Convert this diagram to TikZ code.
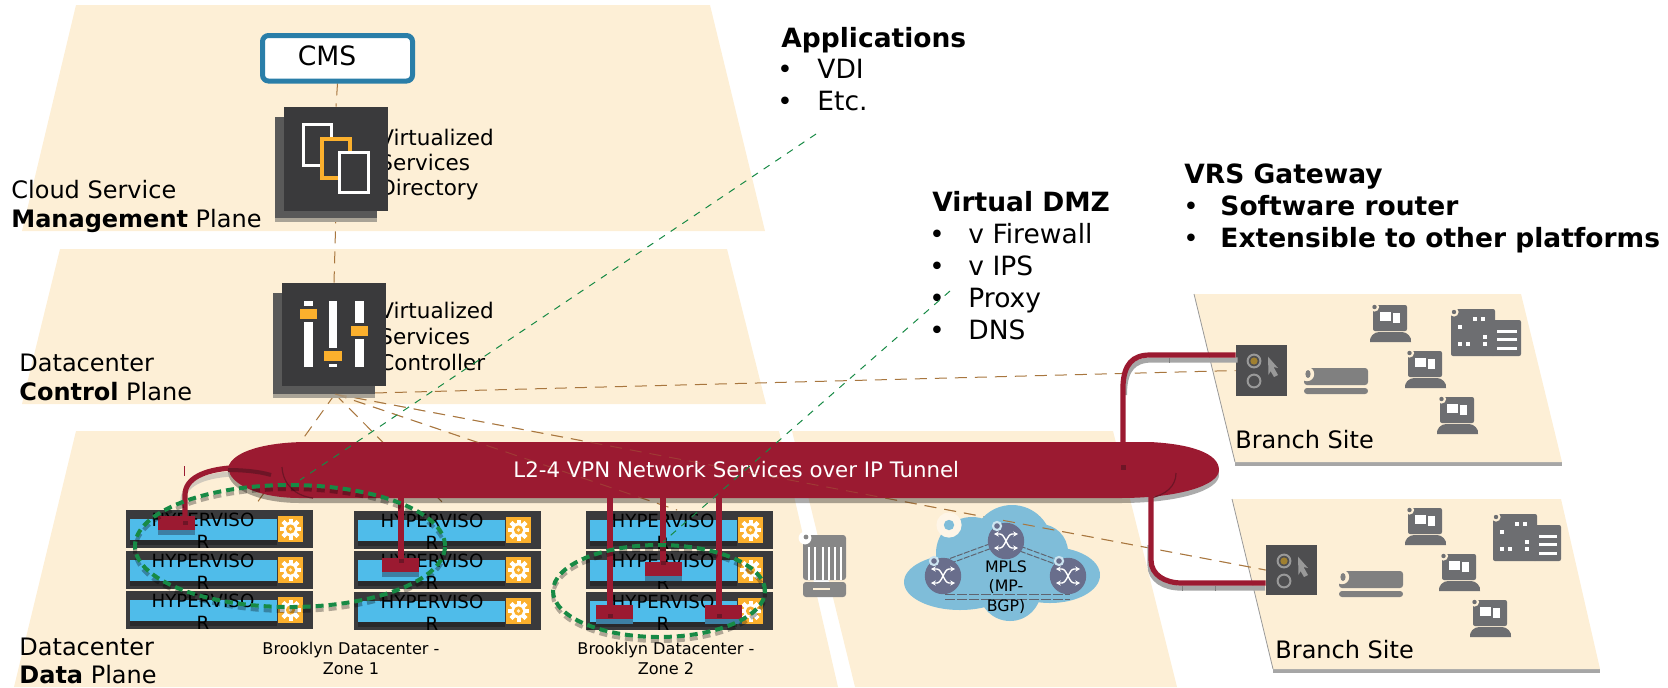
\documentclass[tikz,border=0pt]{standalone}
\usepackage{fontspec}
\setmainfont{DejaVu Sans}
\usetikzlibrary{arrows.meta}
\definecolor{cream}{HTML}{FDEFD6}
\definecolor{tred}{HTML}{9B1A31}
\definecolor{tdark}{HTML}{6E1526}
\definecolor{srvbody}{HTML}{3A3A3C}
\definecolor{srvdark}{HTML}{29292B}
\definecolor{srvblue}{HTML}{4FBCEA}
\definecolor{gearor}{HTML}{FBB02D}
\definecolor{gline}{HTML}{178A45}
\definecolor{bline}{HTML}{A8763E}
\definecolor{shad}{HTML}{A9A396}
\definecolor{devgray}{HTML}{6D6E71}
\definecolor{cloudb}{HTML}{7FBDD9}
\definecolor{rtr}{HTML}{696E8C}
\definecolor{cmsblue}{HTML}{2A7EA8}
\definecolor{rline}{HTML}{5F6470}
\definecolor{gold}{HTML}{A08030}
\definecolor{blockshad}{HTML}{3D7FA3}
\tikzset{
 tl/.style={anchor=base west,inner sep=0pt},
 tc/.style={anchor=base,inner sep=0pt},
 bul/.style={anchor=base,inner sep=0pt,font=\fontsize{13}{15}\selectfont},
 plane/.style={fill=cream,draw=none},
 brown/.style={draw=bline,line width=.5pt,dash pattern=on 6pt off 4pt},
 greenl/.style={draw=gline,line width=.5pt,dash pattern=on 3.5pt off 3.5pt},
 zone/.style={draw=gline,line width=2pt,dash pattern=on 4pt off 2.5pt},
 zoneshad/.style={draw=black,draw opacity=.3,line width=2pt,dash pattern=on 4pt off 2.5pt},
 pipe/.style={draw=tred,line width=2.6pt},
 pipeshad/.style={draw=black!35,line width=2.6pt},
 hyper/.style={anchor=north,inner sep=0pt,align=center,font=\fontsize{9.1}{11}\selectfont},
}
\newcommand\fA{\fontsize{13.25}{15}\selectfont}
\newcommand\fB{\fontsize{12}{14}\selectfont}
\newcommand\fV{\fontsize{10.75}{13}\selectfont}
\newcommand\fZ{\fontsize{8.06}{10}\selectfont}
% server row
\newcommand\srow[3]{%
 \begin{scope}[shift={(#1,#2)}]
 \fill[srvbody] (0,0) rectangle (187,38);
 \fill[srvdark] (4,21) rectangle (151,35);
 \fill[srvblue] (4,9) rectangle (151,30);
 \fill[gearor] (152,6) rectangle (177,32);
 \fill[white] (164.5,19) circle[radius=3.6pt];
 \foreach \a in {0,45,...,315}{\fill[white,rotate around={\a:(164.5,19)}] (162.5,8.5) rectangle (166.5,29.5);}
 \fill[gearor] (164.5,19) circle[radius=2.3pt];
 \fill[white!80!gearor] (164.5,19) circle[radius=.9pt];
 \node[hyper] at (#3,3) {HYPERVISO\\R};
 \end{scope}}
% red block with shadow
\newcommand\rblock[2]{%
 \fill[blockshad] (#1,#2+10) rectangle (#1+37,#2+19);
 \fill[tred] (#1,#2) rectangle (#1+37,#2+14);}
% laptop
\newcommand\laptop[2]{%
 \begin{scope}[shift={(#1,#2)}]
 \fill[devgray,rounded corners=1pt] (0,0) rectangle (34,26);
 \fill[devgray] (-3,37) .. controls (-4,32) and (1,27) .. (6,27) -- (29,27) .. controls (34,27) and (39,32) .. (38,37) -- cycle;
 \fill[white] (7,7) rectangle (18,16);
 \fill[white] (20,8) rectangle (27,18);
 \fill[cream] (1.5,2) circle[radius=2.3pt];
 \fill[devgray] (1.5,2) circle[radius=1.1pt];
 \end{scope}}
% building
\newcommand\building[3]{%
 \begin{scope}[shift={(#1,#2)}]
 \fill[devgray,rounded corners=1pt] (0,0) rectangle (44,47);
 \fill[devgray,rounded corners=1pt] (40,11) rectangle (#3,47);
 \foreach \p in {(24,10),(32,10),(9,18),(34,28),(9,35),(17,35),(34,35)}{\fill[white] \p ++(-1.7,-2.3) rectangle ++(3.4,4.6);}
 \foreach \q in {21,29,38}{\fill[white] (46,\q) rectangle (#3-4,\q+2.6);}
 \fill[cream] (3,3) circle[radius=2.3pt];
 \fill[devgray] (3,3) circle[radius=1.1pt];
 \end{scope}}
% scroll cylinder
\newcommand\scrollic[2]{%
 \begin{scope}[shift={(#1,#2)}]
 \fill[black!50,rounded corners=1.5pt] (0,0) rectangle (64,17);
 \fill[black!50,rounded corners=1.5pt] (0,20) rectangle (64,26);
 \fill[cream] (3,6) circle[radius=3.6pt];
 \fill[black!50] (4,6) ellipse[x radius=1.3pt,y radius=2pt];
 \end{scope}}
% gateway face
\newcommand\gwface[2]{%
 \begin{scope}[shift={(#1,#2)}]
 \draw[black!40,line width=1pt] (18,16) circle[radius=3.2pt];
 \fill[gold] (18,16) circle[radius=1.8pt];
 \draw[black!40,line width=1pt] (18,36) circle[radius=3.2pt];
 \fill[black!40] (32,11.7) -- (42,23) -- (37.5,22) -- (42,30) -- (38,32) -- (34.5,26) -- (32.5,30) -- cycle;
 \end{scope}}
% router
\newcommand\router[2]{%
 \begin{scope}[shift={(#1,#2)}]
 \fill[rtr] (0,0) circle[radius=9.1pt];
 \draw[white,line width=.7pt,{Stealth[length=2.4pt,width=2.6pt]}-{Stealth[length=2.4pt,width=2.6pt]}] (-12,-7) -- (-6,-7) .. controls (-1,-7) and (1,7) .. (6,7) -- (12,7);
 \draw[white,line width=.7pt,{Stealth[length=2.4pt,width=2.6pt]}-{Stealth[length=2.4pt,width=2.6pt]}] (-12,7) -- (-6,7) .. controls (-1,7) and (1,-7) .. (6,-7) -- (12,-7);
 \fill[cloudb!40!white] (-9,-15) circle[radius=2.6pt];
 \fill[rtr] (-9,-15) circle[radius=1.4pt];
 \end{scope}}
\begin{document}
\begin{tikzpicture}[x=.5pt,y=-.5pt]
\useasboundingbox (0,0) rectangle (1668,687);
% planes
\fill[plane] (76,5) -- (710,5) -- (765,231) -- (22,231) -- cycle;
\fill[plane] (60,249) -- (727,249) -- (766,404) -- (22,404) -- cycle;
\fill[plane] (76,431) -- (779,431) -- (838,687) -- (14,687) -- cycle;
\fill[plane] (792,431) -- (1113,431) -- (1177,687) -- (855,687) -- cycle;
\fill[black!35] (1235,461) rectangle (1562,466);
\fill[black!35] (1273,668) rectangle (1600,673);
\fill[plane] (1194,294) -- (1521,294) -- (1562,462) -- (1235,462) -- cycle;
\fill[plane] (1232,499) -- (1561,499) -- (1600,669) -- (1273,669) -- cycle;
\draw[black!40,line width=.4pt] (1194,294) -- (1235,462);
\draw[black!40,line width=.4pt] (1232,499) -- (1273,669);
% coordinates
\coordinate (apex) at (335,394);
\coordinate (z3) at (677,510);
\coordinate (z2) at (447,507);
\coordinate (z1) at (254,507);
\coordinate (ga) at (816,134);
\coordinate (gae) at (300,480);
\coordinate (gb) at (950,291);
\coordinate (gbe) at (663,542);
\coordinate (tick) at (184,466);
\coordinate (ticke) at (184,476);
% texts of planes
\node[tl,font=\fB] (t1) at (11,198) {Cloud Service};
\node[tl,font=\fB] (t2) at (11,227) {\textbf{Management} Plane};
\node[tl,font=\fB] (t3) at (19,371) {Datacenter};
\node[tl,font=\fB] (t4) at (19,400) {\textbf{Control} Plane};
\node[tl,font=\fB] (t5) at (19,655) {Datacenter};
\node[tl,font=\fB] (t6) at (19,683) {\textbf{Data} Plane};
% lists
\node[tl,font=\fA] (a0) at (781,47) {\textbf{Applications}};
\node[bul] (a1b) at (785,78) {•};
\node[tl,font=\fA] (a1) at (817,78) {VDI};
\node[bul] (a2b) at (785,110) {•};
\node[tl,font=\fA] (a2) at (817,110) {Etc.};
\node[tl,font=\fA] (d0) at (932,211) {\textbf{Virtual DMZ}};
\node[bul] (d1b) at (937,243) {•};
\node[tl,font=\fA] (d1) at (968,243) {v Firewall};
\node[bul] (d2b) at (937,275) {•};
\node[tl,font=\fA] (d2) at (968,275) {v IPS};
\node[bul] (d3b) at (937,307) {•};
\node[tl,font=\fA] (d3) at (968,307) {Proxy};
\node[bul] (d4b) at (937,339) {•};
\node[tl,font=\fA] (d4) at (968,339) {DNS};
\node[tl,font=\fA] (v0) at (1184,183) {\textbf{VRS Gateway}};
\node[bul] (v1b) at (1191,215) {•};
\node[tl,font=\fA] (v1) at (1220,215) {\textbf{Software router}};
\node[bul] (v2b) at (1191,247) {•};
\node[tl,font=\fA] (v2) at (1220,247) {\textbf{Extensible to other platforms}};
% position nodes
\node[inner sep=0,minimum width=52pt,minimum height=52pt] (vsd) at (336,159) {};
\node[inner sep=0,minimum width=52pt,minimum height=51.5pt] (vsc) at (334,334.5) {};
\node[inner sep=0,minimum width=25.5pt,minimum height=25.5pt] (gw1) at (1261.5,370.5) {};
\node[inner sep=0,minimum width=25.5pt,minimum height=25pt] (gw2) at (1291.5,570) {};
\node[inner sep=0,minimum width=77.5pt,minimum height=25pt] (cms) at (337.5,58) {};
% connectors under everything
\draw[brown] (cms.south) -- (vsd.north);
\draw[brown] (vsd.south) -- (vsc.north);
\draw[brown] (apex) -- (gw1.west);
\draw[brown] (apex) -- (gw2.west);
\draw[brown] (apex) -- (z3);
\draw[brown] (apex) -- (z2);
\draw[brown] (apex) -- (z1);
% CMS
\draw[fill=white,rounded corners=3pt,draw=cmsblue,line width=2.5pt] (262.5,35.5) rectangle (412.5,81);
\node[tc,font=\fontsize{13.3}{15}\selectfont] (cmst) at (327,65) {CMS};
% Virtualized texts
\node[tl,font=\fV] (x1) at (379,145) {Virtualized};
\node[tl,font=\fV] (x2) at (379,170) {Services};
\node[tl,font=\fV] (x3) at (379,195) {Directory};
\node[tl,font=\fV] (y1) at (379,318) {Virtualized};
\node[tl,font=\fV] (y2) at (379,344) {Services};
\node[tl,font=\fV] (y3) at (379,370) {Controller};
% VSD icon
\fill[shad] (275,218) rectangle (377,222);
\fill[black!65] (275,117) rectangle (377,218);
\fill[srvbody] (284,107) rectangle (388,211);
\draw[white,line width=1.7pt] (303.7,124.7) rectangle (331.3,165.3);
\draw[gearor,line width=1.9pt,fill=srvbody] (321.8,138.8) rectangle (350.2,178.2);
\draw[white,line width=1.7pt,fill=srvbody] (339.7,152.7) rectangle (368.3,192.3);
% VSC icon
\fill[shad] (273,394) rectangle (375,398);
\fill[black!65] (273,293) rectangle (375,394);
\fill[srvbody] (282,283) rectangle (386,386);
\foreach \bx/\ky in {308.5/314,333/356,359.5/331}{
 \fill[white] (\bx-4.3,301) rectangle (\bx+4.3,367);
 \fill[srvbody] (\bx-9,\ky-8) rectangle (\bx+9,\ky+8);
 \fill[gearor] (\bx-8.7,\ky-5) rectangle (\bx+8.7,\ky+5);
}
% Tunnel shadow + tunnel
\fill[black,opacity=.33] (228,473) .. controls (232,455) and (270,447) .. (307,447) -- (1150,447) .. controls (1190,449) and (1219,458) .. (1219,475) .. controls (1219,490) and (1180,503) .. (1120,503) -- (300,503) .. controls (260,503) and (230,490) .. (228,473) -- cycle;
\fill[tred] (228,468) .. controls (232,450) and (270,442) .. (307,442) -- (1150,442) .. controls (1190,444) and (1219,453) .. (1219,470) .. controls (1219,485) and (1180,498) .. (1120,498) -- (300,498) .. controls (260,498) and (230,485) .. (228,468) -- cycle;
\draw[tdark,line width=.6pt] (282,467) .. controls (283,485) and (296,496) .. (313,498);
\draw[tdark,line width=.6pt] (1176,473) .. controls (1176,486) and (1166,495) .. (1150,498);
\node[tl,text=white,font=\fontsize{10.66}{13}\selectfont] (tun) at (513,477) {L2-4 VPN Network Services over IP Tunnel};
% faint dashed lines over the tunnel
\begin{scope}[opacity=.35]
\draw[brown] (apex) -- (gw2.west);
\draw[brown] (apex) -- (z3);
\end{scope}
% servers
\srow{126}{510}{77}\srow{126}{551}{77}\srow{126}{591}{77}
\srow{354}{511}{78}\srow{354}{551}{78}\srow{354}{592}{78}
\srow{586}{511}{77}\srow{586}{551}{77}\srow{586}{592}{77}
% barrel
\begin{scope}[shift={(803,535)}]
\fill[black!47,rounded corners=1.5pt] (0,0) rectangle (43,45);
\fill[black!47,rounded corners=1.5pt] (0,47) rectangle (43,62);
\fill[cream] (10,53) rectangle (27,54.5);
\foreach \sx in {5,11,19,25,31,37}{\fill[white] (\sx,12) rectangle (\sx+2,45);}
\fill[white] (2,3) circle[radius=3.2pt];
\fill[black!47] (3,2) circle[radius=1.2pt];
\end{scope}
% cloud
\fill[cloudb] (960,582) ellipse[x radius=28pt,y radius=14pt];
\fill[cloudb] (1050,575) ellipse[x radius=25pt,y radius=14pt];
\fill[cloudb] (1012,545) circle[radius=20pt];
\fill[cloudb] (972,553) ellipse[x radius=18pt,y radius=18pt];
\fill[cloudb] (1040,552) circle[radius=14pt];
\fill[cloudb] (1010,590) circle[radius=15.5pt];
\fill[cloudb] (1000,575) ellipse[x radius=40pt,y radius=15pt];
\fill[cream!60!white] (949,525) circle[radius=6.3pt];
\fill[cloudb] (949,525) circle[radius=2.6pt];
\coordinate (r1) at (943,576);
\coordinate (r2) at (1006,541);
\coordinate (r3) at (1068,576);
\foreach \o in {0,5}{
 \draw[rline,line width=.5pt,dash pattern=on 3pt off .7pt] (r1)++(0,-15+\o) -- ++(60,-22);
 \draw[rline,line width=.5pt,dash pattern=on 3pt off .7pt] (r2)++(0,0+\o) -- ++(60,22);
 \draw[rline,line width=.5pt,dash pattern=on 5pt off 1pt] (945,594+\o) -- (1070,594+\o);
}
\router{943}{576}\router{1006}{541}\router{1068}{576}
\node[anchor=north,inner sep=0pt,align=center,font=\fontsize{7.9}{9.75}\selectfont] (mpls) at (1006,560) {MPLS\\(MP-\\BGP)};
% brown line over the cloud
\begin{scope}
\clip (1000,500) rectangle (1060,545);
\draw[brown] (apex) -- (gw2.west);
\end{scope}
% branch devices
\fill[srvbody!90!white] (gw1.south west) rectangle (gw1.north east);
\fill[srvbody!90!white] (gw2.south west) rectangle (gw2.north east);
\gwface{1236}{345}\gwface{1266}{545}
\laptop{1373}{305}\laptop{1408}{351}\laptop{1440}{397}
\laptop{1408}{508}\laptop{1442}{554}\laptop{1473}{600}
\building{1451}{309}{70}\building{1493}{514}{68}
\scrollic{1304}{368}\scrollic{1339}{571}
\node[tl,font=\fB] (b1) at (1235,448) {Branch Site};
\node[tl,font=\fB] (b2) at (1275,658) {Branch Site};
% pipes
\draw[pipeshad,shift={(1.5,5)}] (1236,355) -- (1150,355) .. controls (1132,355) and (1124,365) .. (1123,385) -- (1123,390);
\draw[pipeshad,shift={(-1,5)}] (1151,540) -- (1151,560) .. controls (1151,575) and (1165,583) .. (1182,583) -- (1266,583);
\draw[pipe] (gw1.west |- 0,355) -- (1150,355) .. controls (1132,355) and (1124,365) .. (1123,385) -- (1123,470);
\fill[tdark] (1121,465) rectangle (1126,470);
\draw[pipe] (1151,490) -- (1151,560) .. controls (1151,575) and (1165,583) .. (1182,583) -- (gw2.west |- 0,583);
\draw[black!50,line width=.4pt] (1169,358) -- (1169,363);
\draw[black!50,line width=.4pt] (1182,586) -- (1182,591);
\draw[black!50,line width=.4pt] (1215,586) -- (1215,591);
% stems and blocks
\draw[pipeshad,opacity=.5,shift={(-2,6)}] (232,468) .. controls (205,470) and (185,478) .. (185,495) -- (185,500);
\draw[pipe] (230,468) .. controls (205,470) and (185,478) .. (185,495) -- (185,525);
\draw[tdark,line width=2pt] (228,470) .. controls (240,470) and (258,471) .. (271,475);
\rblock{158}{516}
\rblock{382}{558}
\rblock{596}{605}
\rblock{645}{562}
\rblock{705}{605}
\draw[pipe] (401,495) -- (401,563);
\draw[pipe] (610,490) -- (610,618);
\draw[pipe] (663,490) -- (663,565);
\draw[pipe] (719,495) -- (719,618);
\foreach \ex/\ey in {185/525,401/563,610/618,663/565,719/618}{\fill[tdark] (\ex-2.5,\ey-4) rectangle (\ex+2.5,\ey);}
\draw[tred,line width=.5pt] (tick) -- (ticke);
% zones
\draw[zoneshad] (290,550) ellipse[x radius=77.5pt,y radius=30.5pt];
\draw[zoneshad] (659,595) ellipse[x radius=53pt,y radius=23pt];
\draw[zone] (290,546) ellipse[x radius=77.5pt,y radius=30.5pt];
\draw[zone] (659,591) ellipse[x radius=53pt,y radius=23pt];
% green lines
\draw[greenl] (ga) -- (gae);
\draw[greenl] (gb) -- (gbe);
% zone labels
\node[tc,font=\fZ] (z1a) at (351,654) {Brooklyn Datacenter -};
\node[tc,font=\fZ] (z1b) at (351,674) {Zone 1};
\node[tc,font=\fZ] (z2a) at (666,654) {Brooklyn Datacenter -};
\node[tc,font=\fZ] (z2b) at (666,674) {Zone 2};
\end{tikzpicture}
\end{document}
